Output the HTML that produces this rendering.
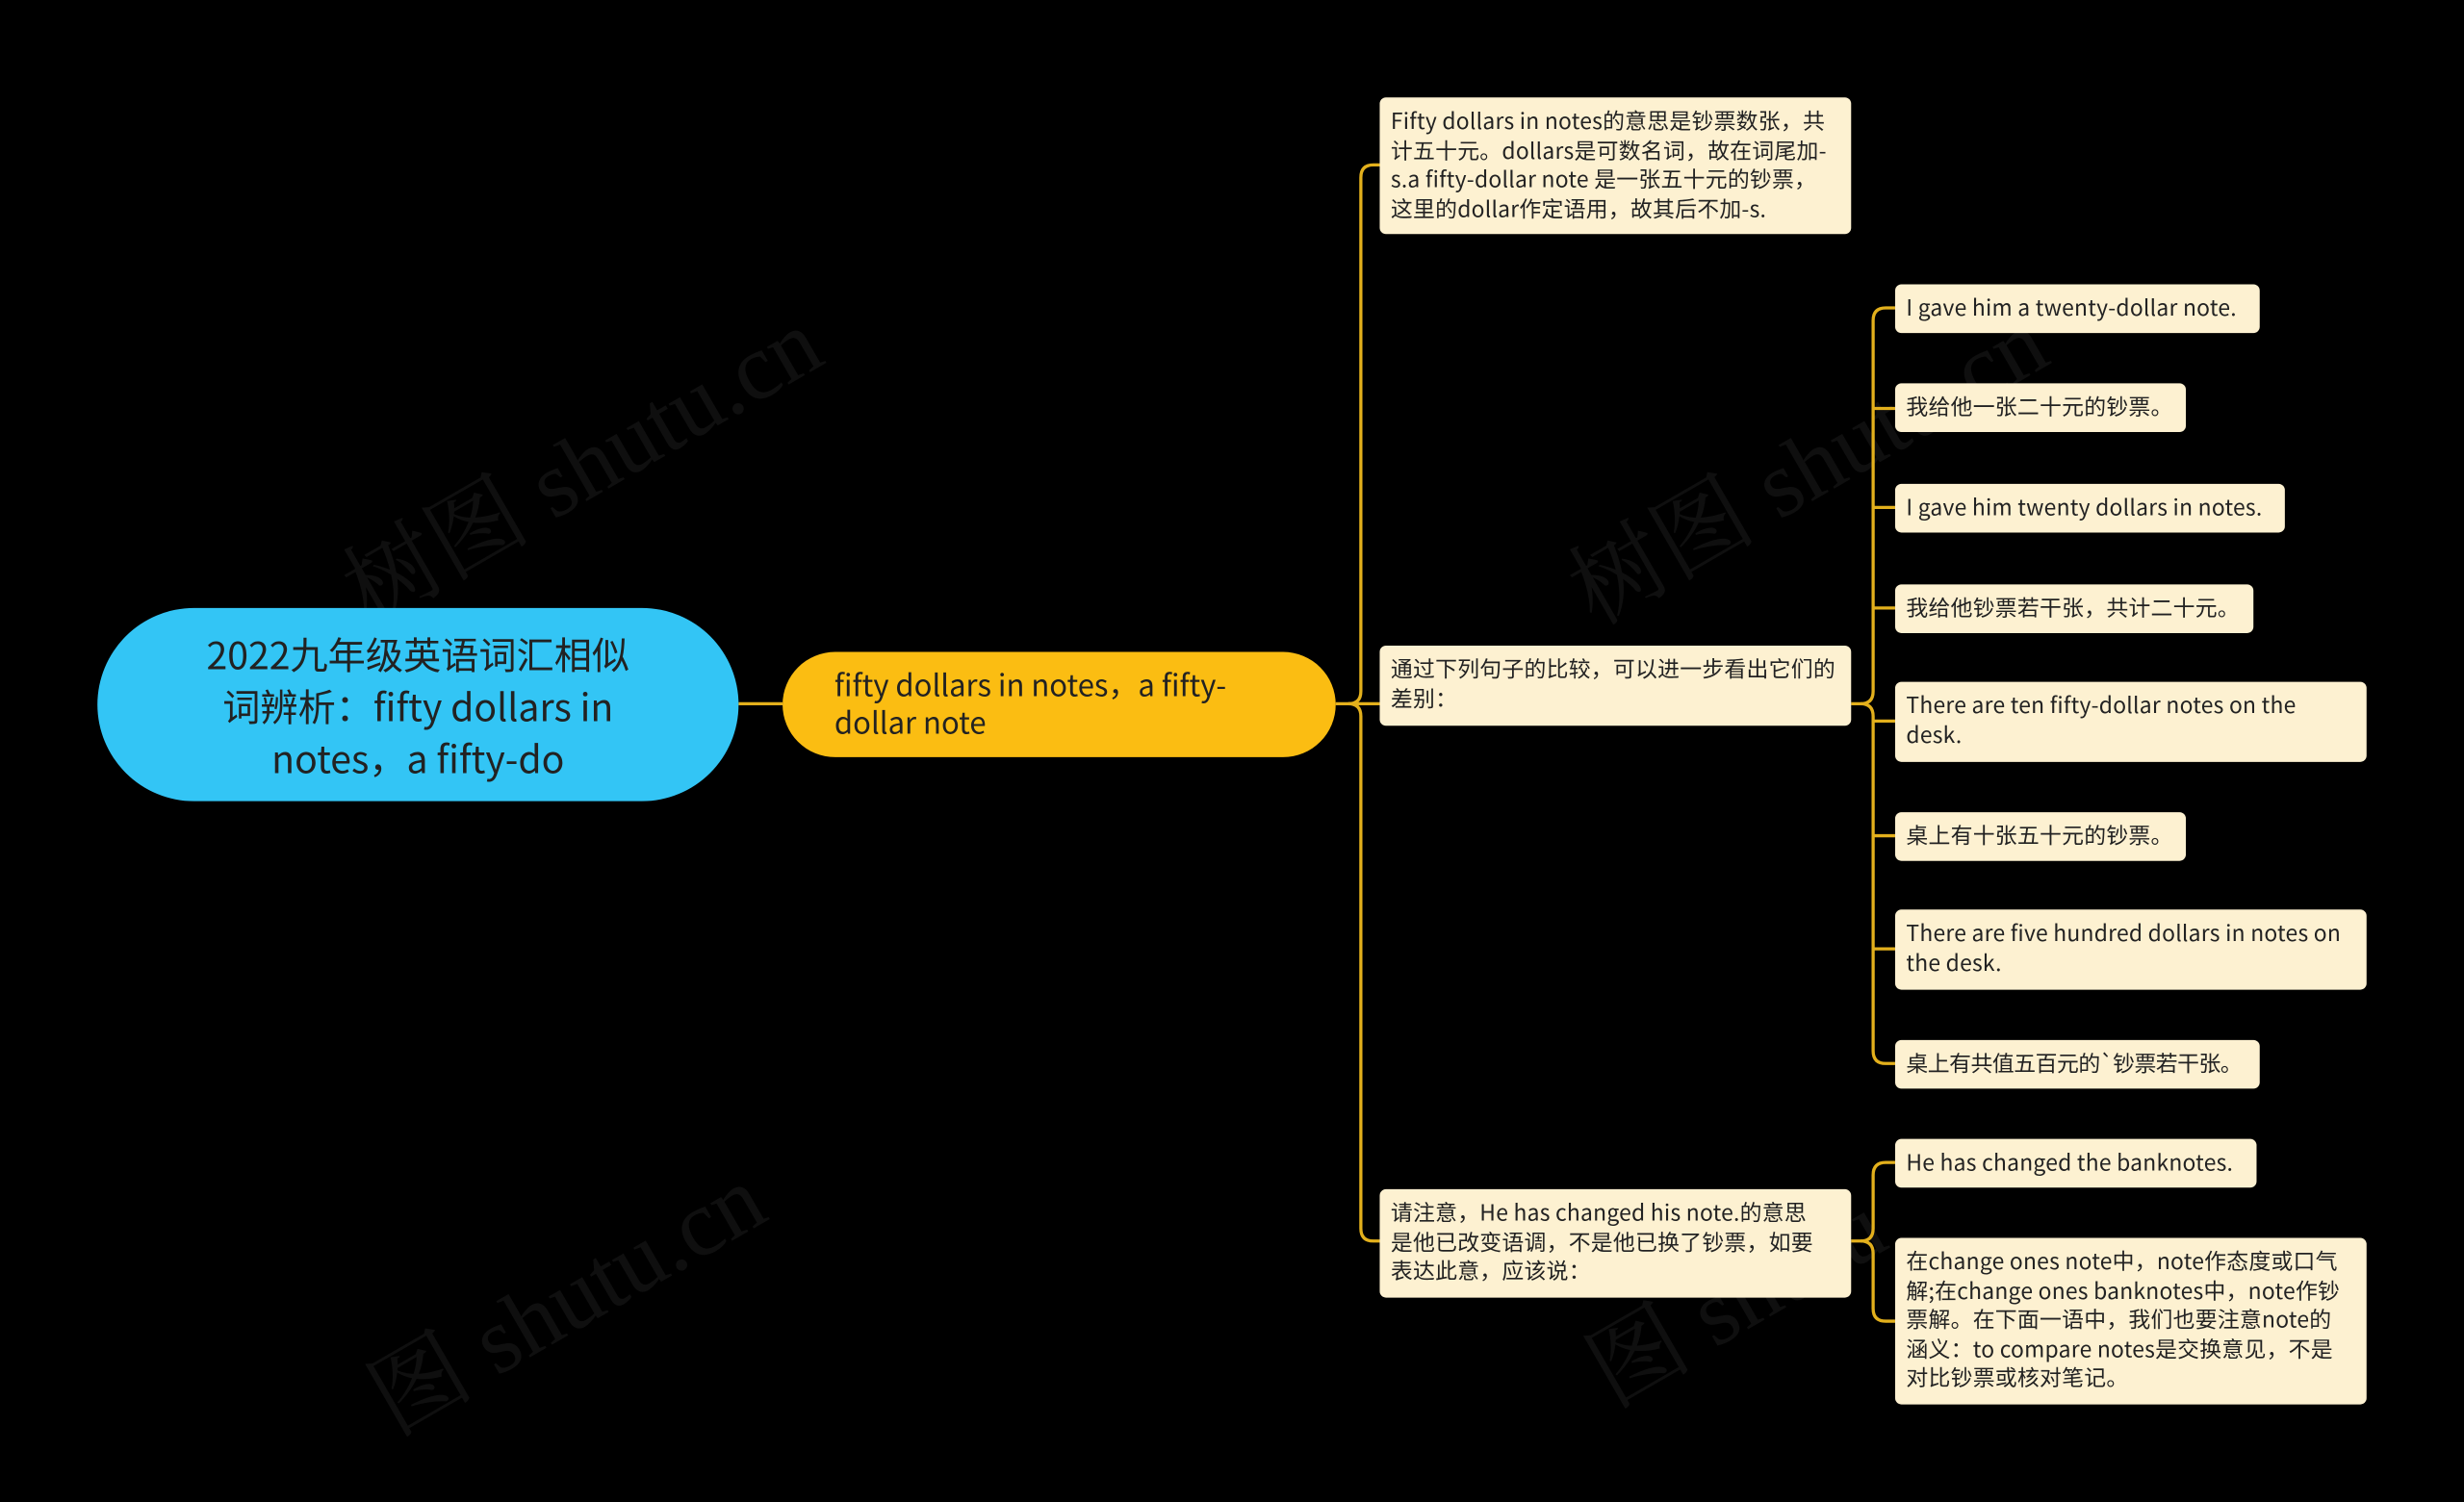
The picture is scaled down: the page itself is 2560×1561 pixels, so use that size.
<!DOCTYPE html>
<html><head><meta charset="utf-8">
<style>
html,body{margin:0;padding:0;background:#000;width:2560px;height:1561px;overflow:hidden}
#s{position:absolute;left:0;top:0;width:1568px;height:956px;overflow:hidden;transform:scale(1.63265);transform-origin:0 0;font-family:"Noto Sans CJK SC","Liberation Sans",sans-serif}
.b{position:absolute;background:#fdf1d1;border-radius:4px;color:#222;font-size:14px;line-height:18.5px;padding:6px 14px 6px 7px;box-sizing:border-box;letter-spacing:0.15px;overflow:hidden}
.n{white-space:nowrap;padding-right:4px}
.wm{position:absolute;color:#fff;opacity:0.06;font-size:60px;transform:rotate(-30deg);white-space:nowrap;font-family:"Liberation Serif","Noto Serif CJK SC",serif}
</style></head><body><div id="s">
<div class="wm" style="left:200px;top:250px">树图 shutu.cn</div>
<div class="wm" style="left:980px;top:250px">树图 shutu.cn</div>
<div class="wm" style="left:220px;top:780px">图 shutu.cn</div>
<div class="wm" style="left:1000px;top:780px">图 shutu</div>
<svg width="1568" height="956" style="position:absolute;left:0;top:0" fill="none" stroke="#e3b01c" stroke-width="2">
<path d="M470 448 H498"/>
<path d="M850 448 H858 Q866 448 866 440 V113 Q866 105 874 105 H878"/>
<path d="M858 448 Q866 448 866 456 V782 Q866 790 874 790 H878"/>
<path d="M858 448 H878"/>
<path d="M1178 448 H1184 Q1192 448 1192 440 V204 Q1192 196 1200 196 H1206"/>
<path d="M1184 448 Q1192 448 1192 456 V669 Q1192 677 1200 677 H1206"/>
<path d="M1192 260 H1206 M1192 323 H1206 M1192 387 H1206 M1192 459 H1206 M1192 532 H1206 M1192 604 H1206"/>
<path d="M1178 790 H1184 Q1192 790 1192 782 V748 Q1192 740 1200 740 H1206"/>
<path d="M1184 790 Q1192 790 1192 798 V833 Q1192 841 1200 841 H1206"/>
</svg>
<div style="position:absolute;left:62px;top:387px;width:408px;height:123px;border-radius:62px;background:#33c5f5;color:#222;font-size:24px;line-height:33px;text-align:center;display:flex;align-items:center;justify-content:center;padding:0 60px;box-sizing:border-box">2022九年级英语词汇相似词辨析：fifty dollars in notes，a fifty-do</div>
<div style="position:absolute;left:498px;top:415px;width:352px;height:67px;border-radius:34px;background:#fbbd12;color:#222;font-size:19px;line-height:24px;padding:9px 50px 9px 33px;box-sizing:border-box">fifty dollars in notes，a fifty-dollar note</div>
<div class="b" style="left:878px;top:62px;width:300px;height:87px">Fifty dollars in notes的意思是钞票数张，共计五十元。dollars是可数名词，故在词尾加-s.a fifty-dollar note 是一张五十元的钞票，这里的dollar作定语用，故其后不加-s.</div>
<div class="b" style="left:878px;top:411px;width:300px;height:51px;padding-right:7px">通过下列句子的比较，可以进一步看出它们的差别：</div>
<div class="b" style="left:878px;top:757px;width:300px;height:69px;padding-right:22px">请注意，He has changed his note.的意思是他已改变语调，不是他已换了钞票，如要表达此意，应该说：</div>
<div class="b n" style="left:1206px;top:181px;width:232px;height:31px">I gave him a twenty-dollar note.</div>
<div class="b n" style="left:1206px;top:244px;width:185px;height:31px">我给他一张二十元的钞票。</div>
<div class="b n" style="left:1206px;top:308px;width:248px;height:31px">I gave him twenty dollars in notes.</div>
<div class="b n" style="left:1206px;top:372px;width:228px;height:31px">我给他钞票若干张，共计二十元。</div>
<div class="b" style="left:1206px;top:434px;width:300px;height:51px;padding-right:24px">There are ten fifty-dollar notes on the desk.</div>
<div class="b n" style="left:1206px;top:517px;width:185px;height:31px">桌上有十张五十元的钞票。</div>
<div class="b" style="left:1206px;top:579px;width:300px;height:51px">There are five hundred dollars in notes on the desk.</div>
<div class="b n" style="left:1206px;top:662px;width:232px;height:31px;letter-spacing:-0.3px">桌上有共值五百元的`钞票若干张。</div>
<div class="b n" style="left:1206px;top:725px;width:230px;height:31px">He has changed the banknotes.</div>
<div class="b" style="left:1206px;top:788px;width:300px;height:106px">在change ones note中，note作态度或口气解;在change ones banknotes中，note作钞票解。在下面一语中，我们也要注意note的涵义：to compare notes是交换意见，不是对比钞票或核对笔记。</div>
</div></body></html>
